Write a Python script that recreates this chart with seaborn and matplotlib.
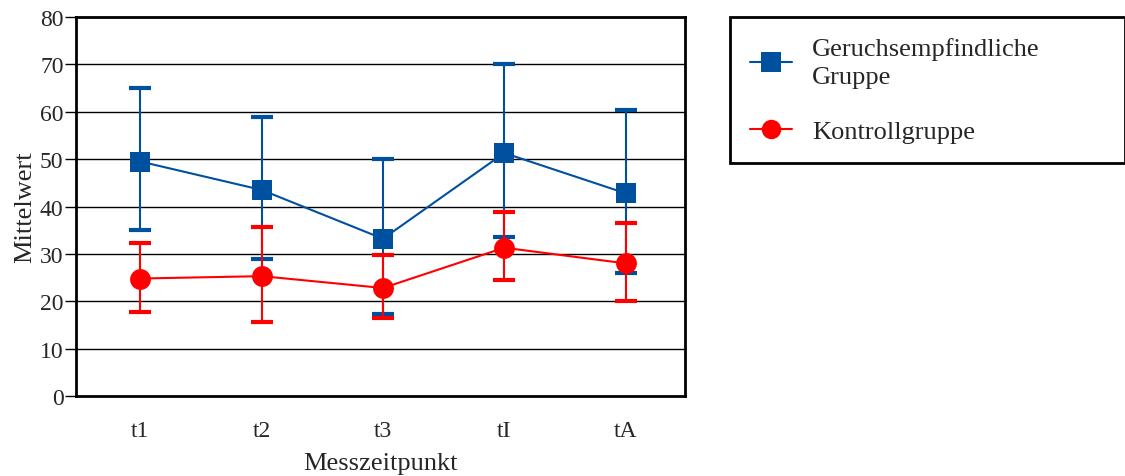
import matplotlib
matplotlib.use("Agg")
import matplotlib.pyplot as plt
import seaborn as sns
import pandas as pd
import numpy as np
from matplotlib.lines import Line2D

categories = ["t1", "t2", "t3", "tI", "tA"]
geruch_mean = [49.5, 43.5, 33.2, 51.3, 42.8]
geruch_upper = [65.0, 58.8, 50.0, 70.0, 60.3]
geruch_lower = [35.0, 29.0, 17.3, 33.5, 26.0]
kontroll_mean = [24.8, 25.3, 22.8, 31.3, 28.0]
kontroll_upper = [32.4, 35.7, 29.8, 38.9, 36.5]
kontroll_lower = [17.8, 15.7, 16.5, 24.4, 20.0]
series_names = ["Geruchsempfindliche\nGruppe", "Kontrollgruppe"]

sns.set_theme(style="white")
plt.rcParams["font.family"] = ["Liberation Serif", "DejaVu Serif"]

BLUE = "#0050A0"
RED = "#FF0000"

x = np.arange(len(categories))
df = pd.DataFrame({
    "x": np.concatenate([x, x]),
    "y": geruch_mean + kontroll_mean,
    "group": [series_names[0]] * len(x) + [series_names[1]] * len(x),
})

fig = plt.figure(figsize=(11.25, 4.77), dpi=100)
ax = fig.add_axes([0.0676, 0.1677, 0.5413, 0.7945])

for yv in range(10, 80, 10):
    ax.axhline(yv, color="black", lw=1.0, zorder=0)

specs = [(geruch_mean, geruch_lower, geruch_upper, BLUE, "s"),
         (kontroll_mean, kontroll_lower, kontroll_upper, RED, "o")]
for m, lo, up, c, mk in specs:
    m = np.array(m); lo = np.array(lo); up = np.array(up)
    ax.errorbar(x, m, yerr=[m - lo, up - m], fmt="none", ecolor=c,
                elinewidth=1.5, capsize=8, capthick=3, zorder=2)

sns.lineplot(data=df, x="x", y="y", hue="group", style="group",
             palette=[BLUE, RED], markers=["s", "o"], dashes=False,
             markersize=15, markeredgewidth=0, linewidth=1.5,
             legend=False, ax=ax, zorder=3)

ax.set_xlim(-0.53, 4.49)
ax.set_ylim(0, 80)
ax.set_xticks(x)
ax.set_xticklabels(categories, fontsize=17)
ax.set_yticks(range(0, 81, 10))
ax.tick_params(axis="y", labelsize=17, length=8, width=1, color="black",
               direction="out", left=True, pad=1)
ax.tick_params(axis="x", length=0, pad=17)
ax.set_xlabel("Messzeitpunkt", fontsize=19, labelpad=8)
ax.set_ylabel("Mittelwert", fontsize=19, labelpad=3)
for s in ax.spines.values():
    s.set_color("black")
    s.set_linewidth(2)
ax.grid(False)

handles = [Line2D([0], [0], color=BLUE, marker="s", markersize=14, lw=1.5,
                  markeredgewidth=0),
           Line2D([0], [0], color=RED, marker="o", markersize=14, lw=1.5,
                  markeredgewidth=0)]
leg = fig.legend(handles, series_names, loc="upper left",
                 bbox_to_anchor=(0.649, 0.671, 0.351, 0.291), mode="expand",
                 fontsize=19, frameon=True, fancybox=False, edgecolor="black",
                 framealpha=1, borderpad=0.75, labelspacing=1.2,
                 handlelength=1.6, handletextpad=0.75, borderaxespad=0)
leg.get_frame().set_linewidth(2)
for t in leg.get_texts():
    t.set_linespacing(1.35)

fig.savefig("out.png", dpi=100)
